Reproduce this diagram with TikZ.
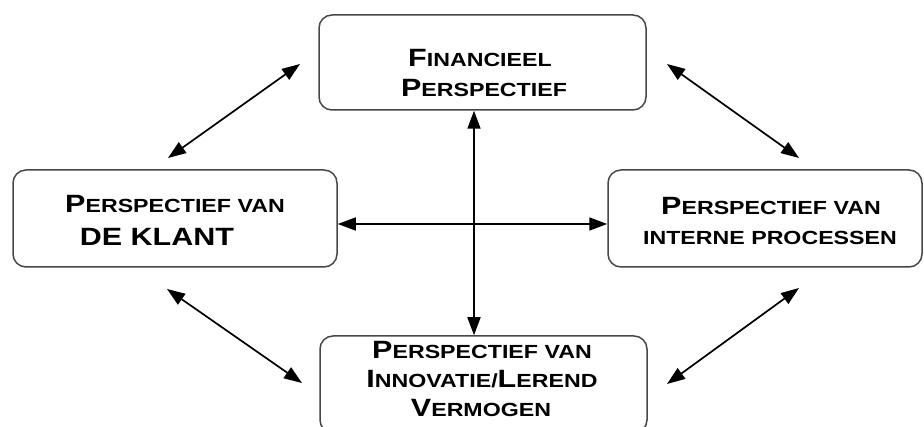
\documentclass[tikz,border=0pt]{standalone}
\usepackage{fontspec}
\newfontfamily\bx[FakeStretch=1.22]{Liberation Sans Bold}
\usetikzlibrary{arrows.meta}
\newcommand\Bg[1]{{\fontsize{25}{25}\selectfont #1}}
\newcommand\Sm[1]{{\fontsize{19}{19}\selectfont #1}}
\begin{document}
\begin{tikzpicture}[x=1pt,y=-1pt,
  box/.style={draw=black!72, line width=1.5pt, rounded corners=13pt, fill=white, inner sep=0pt},
  lbl/.style={anchor=base, inner sep=0pt, font=\bx},
  link/.style={line width=1.7pt, {Triangle[length=18pt,width=13pt]}-{Triangle[length=18pt,width=13pt]}}
]
\useasboundingbox (0,0) rectangle (924,427);
% boxes
\node[box, minimum width=327pt, minimum height=95pt] (fin) at (482.5,62.5) {};
\node[box, minimum width=324pt, minimum height=97pt] (klant) at (175,218.5) {};
\node[box, minimum width=314pt, minimum height=97pt] (intern) at (765,218.5) {};
\node[box, minimum width=327pt, minimum height=97pt] (innov) at (483.5,384.5) {};
% labels
\node[lbl] (fin1) at (480,67) {\Bg{F}\Sm{INANCIEEL}};
\node[lbl] (fin2) at (484,97) {\Bg{P}\Sm{ERSPECTIEF}};
\node[lbl] (kl1) at (175,213) {\Bg{P}\Sm{ERSPECTIEF VAN}};
\node[lbl] (kl2) at (157,246) {\Bg{DE KLANT}};
\node[lbl] (in1) at (771,215) {\Bg{P}\Sm{ERSPECTIEF VAN}};
\node[lbl] (in2) at (770,245) {\Sm{INTERNE PROCESSEN}};
\node[lbl] (iv1) at (482,359) {\Bg{P}\Sm{ERSPECTIEF VAN}};
\node[lbl] (iv2) at (482,388) {\Bg{I}\Sm{NNOVATIE/}\Bg{L}\Sm{EREND}};
\node[lbl] (iv3) at (481,417) {\Bg{V}\Sm{ERMOGEN}};
% connectors
\coordinate (vx) at (474,0);
\coordinate (hy) at (0,224);
\draw[link] (fin.south -| vx) -- (innov.north -| vx);
\draw[link] (klant.east |- hy) -- (intern.west |- hy);
\coordinate (tlA) at (168,158);
\coordinate (tlB) at (300,64);
\coordinate (blA) at (167,289);
\coordinate (blB) at (302,383);
\coordinate (trA) at (667,64);
\coordinate (trB) at (799,158);
\coordinate (brA) at (667,384);
\coordinate (brB) at (799,288);
\draw[link] (tlA) -- (tlB);
\draw[link] (blA) -- (blB);
\draw[link] (trA) -- (trB);
\draw[link] (brA) -- (brB);
\end{tikzpicture}
\end{document}
